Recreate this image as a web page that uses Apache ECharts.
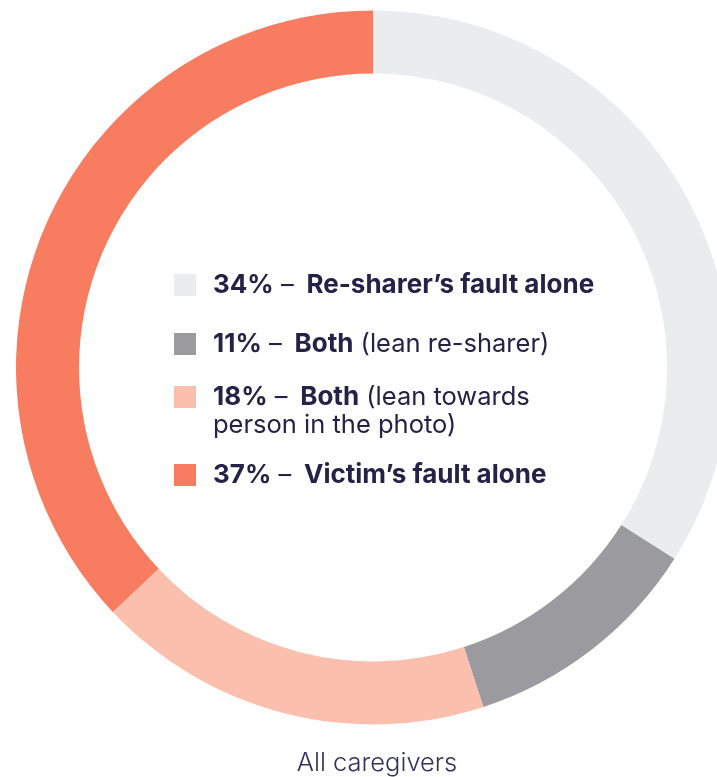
<!DOCTYPE html>
<html>
<head>
<meta charset="utf-8">
<script src="https://cdn.jsdelivr.net/npm/echarts@6/dist/echarts.min.js"></script>
<style>
  html, body { margin: 0; padding: 0; background: #fff; }
  #chart { width: 717px; height: 777px; }
</style>
</head>
<body>
<div id="chart"></div>
<script>
const categories = [
  'Re-sharer’s fault alone',
  'Both (lean re-sharer)',
  'Both (lean towards person in the photo)',
  'Victim’s fault alone'
]
const values = [34, 11, 18, 37]
const colors = ['#EBECEE', '#9B9A9F', '#FBBFAE', '#F87C5F']
const legendLabels = [
  '{b|34%} \u2013\u2002{b|Re-sharer’s fault alone}',
  '{b|11%} \u2013\u2002{b|Both} (lean re-sharer)',
  '{b|18%} \u2013\u2002{b|Both} (lean towards\nperson in the photo)',
  '{b|37%} \u2013\u2002{b|Victim’s fault alone}'
]
const groupLabel = 'All caregivers'

const textColor = '#262247'
const legendTops = [271, 330, 355, 461]

const chart = echarts.init(document.getElementById('chart'))

const legends = categories.map((name, i) => ({
  orient: 'vertical',
  left: 174,
  top: legendTops[i],
  icon: 'rect',
  itemWidth: 22,
  itemHeight: 22,
  itemGap: 0,
  padding: 0,
  selectedMode: false,
  data: [name],
  formatter: () => legendLabels[i],
  textStyle: {
    fontFamily: 'Inter',
    fontSize: 25.5,
    lineHeight: 28,
    color: textColor,
    padding: i === 2 ? [28, 0, 0, 12] : [0, 0, 0, 12],
    rich: {
      b: {
        fontFamily: 'Inter',
        fontSize: 26,
        lineHeight: 28,
        fontWeight: 700,
        color: textColor
      }
    }
  }
}))

const option = {
  animation: false,
  title: {
    text: groupLabel,
    left: 372,
    top: 745,
    textAlign: 'center',
    textStyle: {
      fontFamily: 'Inter',
      fontSize: 25.5,
      fontWeight: 300,
      color: '#35325A'
    }
  },
  legend: legends,
  series: [
    {
      type: 'pie',
      center: [373, 367.5],
      radius: [294, 357],
      startAngle: 90,
      clockwise: true,
      label: { show: false },
      labelLine: { show: false },
      silent: true,
      data: categories.map((name, i) => ({
        name,
        value: values[i],
        itemStyle: { color: colors[i] }
      }))
    }
  ]
}

chart.setOption(option)
</script>
</body>
</html>
